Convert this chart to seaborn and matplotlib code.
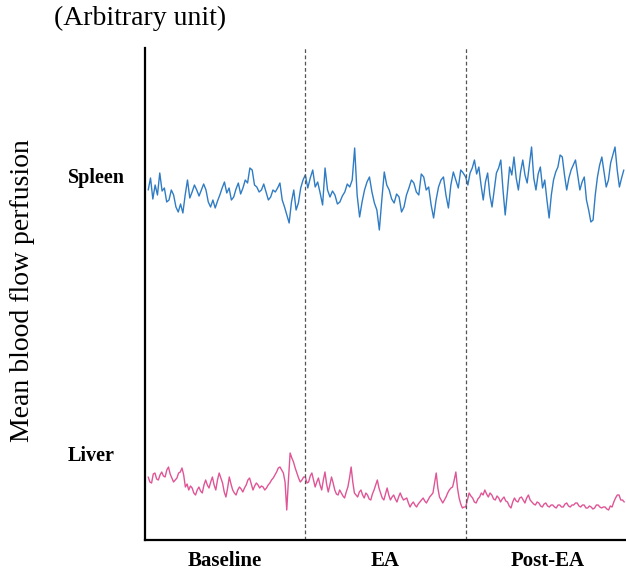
import numpy as np
import pandas as pd
from matplotlib import pyplot as plt
import seaborn as sns

# readings taken off the trace, arbitrary units (higher = more perfusion)
spleen_baseline = [350, 362, 341, 355, 345, 367, 349, 352, 338, 340, 350, 345, 333, 328, 336, 327,
                   345, 360, 342, 348, 355, 350, 344, 350, 356, 350, 338, 333, 340, 332, 339, 345,
                   352, 358, 347, 352, 340, 343, 351, 357, 346, 352, 360, 357, 372, 370, 355, 353,
                   348, 350, 356, 348, 340, 343, 350, 348, 352, 357, 340, 333, 325, 317, 338, 350,
                   330, 337, 352, 360]
spleen_ea = [365, 352, 362, 370, 353, 358, 347, 335, 372, 350, 343, 349, 345, 336, 338, 344,
             348, 356, 353, 360, 392, 345, 323, 338, 350, 358, 363, 348, 337, 330, 310, 340,
             368, 355, 350, 341, 337, 346, 343, 328, 333, 345, 352, 360, 357, 348, 345, 366,
             363, 350, 353, 335, 322, 340, 353, 360, 363, 345, 332, 355, 368, 360, 352, 370, 367]
spleen_post = [363, 355, 367, 372, 380, 366, 373, 355, 340, 358, 367, 345, 333, 350, 367, 372,
               380, 350, 325, 348, 373, 365, 383, 362, 350, 368, 380, 365, 357, 375, 393, 362,
               350, 366, 373, 352, 360, 340, 322, 345, 360, 368, 373, 385, 383, 365, 350, 362,
               370, 375, 380, 365, 350, 358, 363, 340, 330, 318, 320, 345, 363, 375, 383, 368,
               353, 360, 377, 385, 393, 370, 353, 362, 370]

liver_baseline = [63, 58, 57, 66, 67, 61, 60, 65, 68, 64, 63, 70, 73, 66, 62, 58, 60, 62, 67, 68,
                  72, 65, 53, 56, 50, 54, 52, 47, 45, 50, 53, 49, 47, 55, 60, 55, 52, 58, 63, 55,
                  50, 60, 67, 62, 57, 48, 43, 52, 63, 56, 50, 47, 45, 50, 53, 51, 48, 52, 55, 60,
                  62, 56, 50, 54, 57, 55, 52, 54, 53, 50, 52, 55, 57, 60, 62, 65, 68, 72, 73, 70,
                  67, 58, 30, 60, 87, 82, 78, 72, 67, 62, 58, 60, 63]
liver_ea = [63, 57, 58, 64, 67, 60, 53, 58, 62, 55, 50, 60, 68, 56, 48, 55, 63, 57, 50, 46,
            45, 50, 47, 44, 42, 48, 53, 62, 73, 58, 47, 45, 43, 48, 50, 45, 42, 47, 45, 41,
            40, 46, 50, 55, 60, 52, 47, 42, 40, 46, 52, 45, 40, 43, 45, 41, 38, 43, 47, 43,
            40, 41, 42, 37, 33, 36, 38, 35, 33, 36, 38, 40, 42, 39, 37, 40, 43, 45, 47, 57,
            67, 52, 43, 40, 37, 40, 43, 47, 50, 52, 53, 60, 68, 52, 42, 36, 32, 33]
liver_post = [33, 40, 47, 44, 42, 38, 37, 41, 43, 47, 45, 50, 46, 43, 47, 45, 41, 40, 44, 42,
              38, 41, 43, 39, 38, 34, 32, 38, 42, 39, 38, 42, 43, 40, 37, 42, 45, 40, 38, 36,
              35, 38, 37, 34, 33, 36, 37, 34, 33, 35, 35, 33, 32, 35, 35, 33, 33, 36, 37, 34,
              33, 35, 35, 37, 37, 34, 33, 35, 35, 32, 32, 34, 33, 31, 32, 35, 35, 33, 32, 33,
              33, 31, 30, 34, 33, 38, 42, 45, 45, 40, 40, 38]

phases = ['Baseline', 'EA', 'Post-EA']
phase_edges = [(2, 100), (100, 200), (200, 300)]
organ_colors = {'Spleen': '#2f7cc4', 'Liver': '#df5596'}


def build_frame(organ, segments):
    rows = []
    for (t0, t1), seg in zip(phase_edges, segments):
        t = np.linspace(t0, t1, len(seg), endpoint=False)
        rows.append(pd.DataFrame({'time': t, 'value': seg, 'organ': organ}))
    return pd.concat(rows)


df = pd.concat([
    build_frame('Spleen', [spleen_baseline, spleen_ea, spleen_post]),
    build_frame('Liver', [liver_baseline, liver_ea, liver_post]),
], ignore_index=True)

sns.set_style('white')
plt.rcParams['font.family'] = ['Liberation Serif', 'DejaVu Serif']
plt.rcParams['text.color'] = 'black'
plt.rcParams['axes.labelcolor'] = 'black'
plt.rcParams['xtick.color'] = 'black'

fig = plt.figure(figsize=(6.26, 5.82), dpi=100)
ax = fig.add_axes([145 / 626, 1 - 540 / 582, 481 / 626, 492 / 582])

sns.lineplot(data=df, x='time', y='value', hue='organ', units='organ', estimator=None,
             palette=organ_colors, legend=False, linewidth=1.0, ax=ax, sort=False)

for x in [100, 200]:
    ax.axvline(x, color='#555555', linestyle=(0, (3, 2)), linewidth=0.9)

ax.set_xlim(0, 300)
ax.set_ylim(0, 492)
ax.set_xticks([50, 150, 251])
ax.set_xticklabels(phases, fontsize=15, fontweight='bold')
ax.set_yticks([])
ax.tick_params(axis='x', length=0, pad=8)
ax.set_xlabel('')
ax.set_ylabel('Mean blood flow perfusion', fontsize=20)
ax.yaxis.set_label_coords(-0.228, 0.508)

sns.despine(ax=ax)
for side in ['left', 'bottom']:
    ax.spines[side].set_color('black')
    ax.spines[side].set_linewidth(1.6)

label_tf = ax.get_yaxis_transform()
ax.text(-0.16, 362, 'Spleen', transform=label_tf, fontsize=14.5, fontweight='bold', va='center')
ax.text(-0.16, 84, 'Liver', transform=label_tf, fontsize=14.5, fontweight='bold', va='center')

fig.text(140 / 626, 1 - 18 / 582, '(Arbitrary unit)', fontsize=20, ha='center', va='center')

fig.savefig('out.png', dpi=100)
